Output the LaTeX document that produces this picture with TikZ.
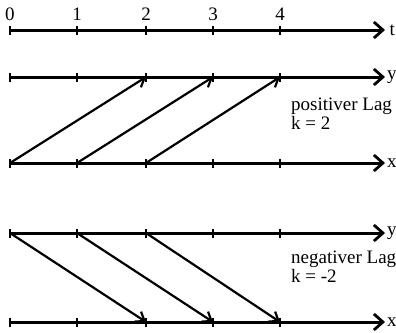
\documentclass[tikz,border=0pt]{standalone}
\usepackage{fontspec}
\setmainfont{Liberation Serif}
\usetikzlibrary{arrows.meta}

\begin{document}
\begin{tikzpicture}[x=1pt,y=-1pt,
    axis/.style={line width=3pt,-{Straight Barb[length=9pt,width=16pt,line width=2.8pt]}},
    lag/.style={line width=2.2pt,-{Straight Barb[length=8pt,width=12pt,line width=2.2pt]}},
    tick/.style={line width=2.4pt},
    lbl/.style={font=\fontsize{19}{19}\selectfont,inner sep=0pt}]
  \useasboundingbox (0,0) rectangle (396,332);
  % Punkte der Zeitachse und der Reihen
  \foreach \row/\ypos in {t/30,py/77,px/163,ny/233,nx/322}{
    \foreach \i/\xpos in {0/10,1/77,2/146,3/213,4/280}
      \coordinate (\row\i) at (\xpos,\ypos);
    \coordinate (\row e) at (385,\ypos);
  }
  % Achsen
  \draw[axis] (t0) -- (te) node[lbl,anchor=west,xshift=3pt] (tlab) {t};
  \draw[axis] (py0) -- (pye) node[lbl,anchor=west,xshift=0.5pt] (pylab) {y};
  \draw[axis] (px0) -- (pxe) node[lbl,anchor=west,xshift=0.5pt] (pxlab) {x};
  \draw[axis] (ny0) -- (nye) node[lbl,anchor=west,xshift=0.5pt] (nylab) {y};
  \draw[axis] (nx0) -- (nxe) node[lbl,anchor=west,xshift=0.5pt] (nxlab) {x};
  \foreach \row in {t,py,px,ny,nx}
    \foreach \i in {0,...,4}
      \draw[tick] ([yshift=-4.5pt]\row\i) -- ([yshift=4.5pt]\row\i);
  \foreach \i in {0,...,4}
    \node[lbl,anchor=south] (num\i) at ([yshift=9pt]t\i) {\i};
  % positiver Lag
  \draw[lag] (px0) -- (py2);
  \draw[lag] (px1) -- (py3);
  \draw[lag] (px2) -- (py4);
  \node[lbl,anchor=base west,align=left] (pos) at (291,129) {positiver Lag\\k = 2};
  % negativer Lag
  \draw[lag] (ny0) -- (nx2);
  \draw[lag] (ny1) -- (nx3);
  \draw[lag] (ny2) -- (nx4);
  \node[lbl,anchor=base west,align=left] (neg) at (291,282) {negativer Lag\\k = -2};
\end{tikzpicture}
\end{document}
